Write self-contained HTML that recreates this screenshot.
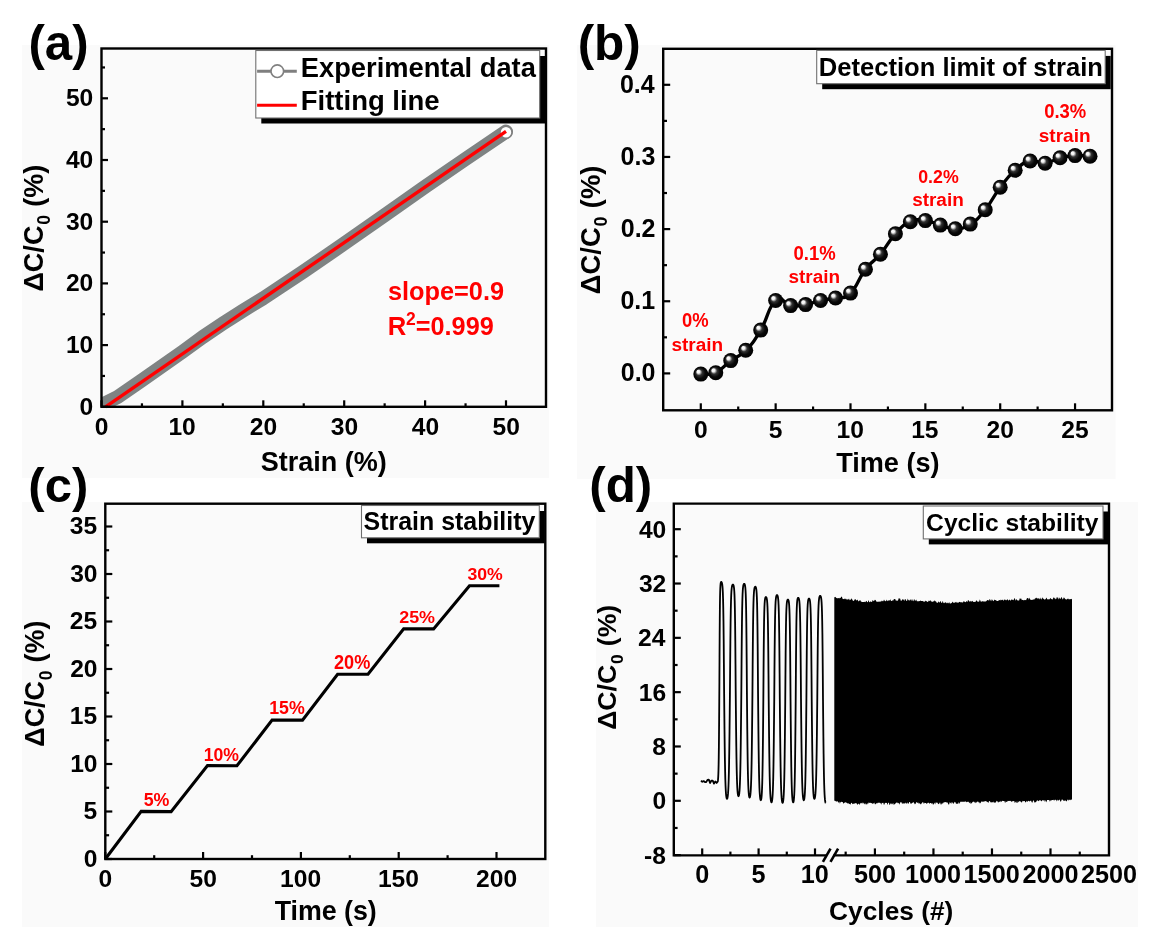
<!DOCTYPE html><html><head><meta charset="utf-8"><style>html,body{margin:0;padding:0;background:#fff;overflow:hidden}svg{display:block;will-change:transform}</style></head><body>
<svg width="1154" height="945" viewBox="0 0 1154 945">
<defs><radialGradient id="sph" cx="0.5" cy="0.5" r="0.5" fx="0.3" fy="0.3"><stop offset="0" stop-color="#fff"/><stop offset="0.2" stop-color="#f2f2f2"/><stop offset="0.42" stop-color="#333"/><stop offset="0.7" stop-color="#080808"/><stop offset="1" stop-color="#000"/></radialGradient><clipPath id="ca"><rect x="101.5" y="48.5" width="444.5" height="358.3"/></clipPath></defs>
<rect width="1154" height="945" fill="#fff"/>
<rect x="22" y="45" width="527" height="433" fill="#fafafa"/>
<rect x="577" y="45" width="538.5" height="434" fill="#fafafa"/>
<rect x="22" y="502" width="527" height="425" fill="#fafafa"/>
<rect x="596" y="502" width="542" height="425" fill="#fafafa"/>
<g font-family="Liberation Sans" font-weight="bold">
<path d="M101.5 404.95 L117.68 396.93 L141.95 380.27 L182.4 351.89 L202.62 337.08 L222.85 323.5 L243.07 310.55 L263.3 298.21 L303.75 271.37 L344.2 243.6 L384.65 215.22 L425.1 186.84 L465.55 159.07 L506 131.62" fill="none" stroke="#7f8383" stroke-width="14" stroke-linejoin="round" stroke-linecap="round" clip-path="url(#ca)"/>
<circle cx="506" cy="132.24" r="6" fill="#fff" stroke="#808080" stroke-width="1.6"/>
<line x1="105.55" y1="406.8" x2="506" y2="131.31" stroke="#ff0000" stroke-width="3.4"/>
<rect x="101.5" y="48.5" width="444.5" height="358.3" fill="none" stroke="#000" stroke-width="2.4"/>
<line x1="101.5" y1="406.8" x2="108" y2="406.8" stroke="#000" stroke-width="2.2" />
<line x1="101.5" y1="345.1" x2="108" y2="345.1" stroke="#000" stroke-width="2.2" />
<line x1="101.5" y1="283.4" x2="108" y2="283.4" stroke="#000" stroke-width="2.2" />
<line x1="101.5" y1="221.7" x2="108" y2="221.7" stroke="#000" stroke-width="2.2" />
<line x1="101.5" y1="160" x2="108" y2="160" stroke="#000" stroke-width="2.2" />
<line x1="101.5" y1="98.3" x2="108" y2="98.3" stroke="#000" stroke-width="2.2" />
<line x1="101.5" y1="375.95" x2="105" y2="375.95" stroke="#000" stroke-width="2.2" />
<line x1="101.5" y1="314.25" x2="105" y2="314.25" stroke="#000" stroke-width="2.2" />
<line x1="101.5" y1="252.55" x2="105" y2="252.55" stroke="#000" stroke-width="2.2" />
<line x1="101.5" y1="190.85" x2="105" y2="190.85" stroke="#000" stroke-width="2.2" />
<line x1="101.5" y1="129.15" x2="105" y2="129.15" stroke="#000" stroke-width="2.2" />
<line x1="101.5" y1="67.45" x2="105" y2="67.45" stroke="#000" stroke-width="2.2" />
<line x1="101.5" y1="406.8" x2="101.5" y2="400.3" stroke="#000" stroke-width="2.2" />
<line x1="182.4" y1="406.8" x2="182.4" y2="400.3" stroke="#000" stroke-width="2.2" />
<line x1="263.3" y1="406.8" x2="263.3" y2="400.3" stroke="#000" stroke-width="2.2" />
<line x1="344.2" y1="406.8" x2="344.2" y2="400.3" stroke="#000" stroke-width="2.2" />
<line x1="425.1" y1="406.8" x2="425.1" y2="400.3" stroke="#000" stroke-width="2.2" />
<line x1="506" y1="406.8" x2="506" y2="400.3" stroke="#000" stroke-width="2.2" />
<line x1="141.95" y1="406.8" x2="141.95" y2="403.3" stroke="#000" stroke-width="2.2" />
<line x1="222.85" y1="406.8" x2="222.85" y2="403.3" stroke="#000" stroke-width="2.2" />
<line x1="303.75" y1="406.8" x2="303.75" y2="403.3" stroke="#000" stroke-width="2.2" />
<line x1="384.65" y1="406.8" x2="384.65" y2="403.3" stroke="#000" stroke-width="2.2" />
<line x1="465.55" y1="406.8" x2="465.55" y2="403.3" stroke="#000" stroke-width="2.2" />
<text x="79.53" y="414.61" font-size="24.6" fill="#000">0</text>
<text x="65.88" y="352.91" font-size="24.6" fill="#000">10</text>
<text x="65.88" y="291.21" font-size="24.6" fill="#000">20</text>
<text x="65.88" y="229.51" font-size="24.6" fill="#000">30</text>
<text x="65.88" y="167.81" font-size="24.6" fill="#000">40</text>
<text x="65.88" y="106.11" font-size="24.6" fill="#000">50</text>
<text x="94.67" y="434.82" font-size="24.6" fill="#000">0</text>
<text x="168.44" y="434.82" font-size="24.6" fill="#000">10</text>
<text x="249.71" y="434.82" font-size="24.6" fill="#000">20</text>
<text x="330.73" y="434.82" font-size="24.6" fill="#000">30</text>
<text x="411.75" y="434.82" font-size="24.6" fill="#000">40</text>
<text x="492.47" y="434.82" font-size="24.6" fill="#000">50</text>
<text x="260.69" y="470.8" font-size="27.04" fill="#000">Strain (%)</text>
<g transform="translate(42.96 290.5) rotate(-90)">
<text x="-1.08" y="0" font-size="27.04">ΔC/C</text>
<text x="65.72" y="7.3" font-size="17.58">0</text>
<text x="83.7" y="0" font-size="27.04">(%)</text>
</g>
<rect x="261.3" y="56" width="283.9" height="67.5" fill="#000"/>
<rect x="255.8" y="50.5" width="283.9" height="67.5" fill="#fff" stroke="#707070" stroke-width="1.1"/>
<line x1="257.1" y1="71.2" x2="296.8" y2="71.2" stroke="#7f7f7f" stroke-width="3.0" />
<circle cx="277.3" cy="71.2" r="6.3" fill="#fff" stroke="#808080" stroke-width="1.6"/>
<line x1="257.1" y1="105.2" x2="296.8" y2="105.2" stroke="#ff0000" stroke-width="3.1" />
<text x="300.83" y="77.3" font-size="27.29" fill="#000">Experimental data</text>
<text x="300.81" y="110.4" font-size="27.47" fill="#000">Fitting line</text>
<text x="387.91" y="299.9" font-size="25.34" fill="#ff0000">slope=0.9</text>
<text transform="translate(387.83 335.2) scale(0.9786 1)" font-size="26.23" fill="#ff0000">R</text>
<text transform="translate(406.09 324.9) scale(0.9570 1)" font-size="18.29" fill="#ff0000">2</text>
<text x="415.79" y="335.2" font-size="25.25" fill="#ff0000">=0.999</text>
<text x="28.44" y="59.7" font-size="49.24" fill="#000">(a)</text>
<rect x="663.2" y="48.8" width="448.8" height="361.5" fill="none" stroke="#000" stroke-width="2.4"/>
<line x1="663.2" y1="373.4" x2="670.2" y2="373.4" stroke="#000" stroke-width="2.2" />
<line x1="663.2" y1="301.25" x2="670.2" y2="301.25" stroke="#000" stroke-width="2.2" />
<line x1="663.2" y1="229.1" x2="670.2" y2="229.1" stroke="#000" stroke-width="2.2" />
<line x1="663.2" y1="156.95" x2="670.2" y2="156.95" stroke="#000" stroke-width="2.2" />
<line x1="663.2" y1="84.8" x2="670.2" y2="84.8" stroke="#000" stroke-width="2.2" />
<line x1="663.2" y1="337.32" x2="667" y2="337.32" stroke="#000" stroke-width="2.2" />
<line x1="663.2" y1="265.17" x2="667" y2="265.17" stroke="#000" stroke-width="2.2" />
<line x1="663.2" y1="193.02" x2="667" y2="193.02" stroke="#000" stroke-width="2.2" />
<line x1="663.2" y1="120.88" x2="667" y2="120.88" stroke="#000" stroke-width="2.2" />
<line x1="700.8" y1="410.3" x2="700.8" y2="403.3" stroke="#000" stroke-width="2.2" />
<line x1="775.65" y1="410.3" x2="775.65" y2="403.3" stroke="#000" stroke-width="2.2" />
<line x1="850.5" y1="410.3" x2="850.5" y2="403.3" stroke="#000" stroke-width="2.2" />
<line x1="925.35" y1="410.3" x2="925.35" y2="403.3" stroke="#000" stroke-width="2.2" />
<line x1="1000.2" y1="410.3" x2="1000.2" y2="403.3" stroke="#000" stroke-width="2.2" />
<line x1="1075.05" y1="410.3" x2="1075.05" y2="403.3" stroke="#000" stroke-width="2.2" />
<line x1="738.22" y1="410.3" x2="738.22" y2="406.5" stroke="#000" stroke-width="2.2" />
<line x1="813.07" y1="410.3" x2="813.07" y2="406.5" stroke="#000" stroke-width="2.2" />
<line x1="887.92" y1="410.3" x2="887.92" y2="406.5" stroke="#000" stroke-width="2.2" />
<line x1="962.77" y1="410.3" x2="962.77" y2="406.5" stroke="#000" stroke-width="2.2" />
<line x1="1037.62" y1="410.3" x2="1037.62" y2="406.5" stroke="#000" stroke-width="2.2" />
<text x="620.75" y="381.25" font-size="25" fill="#000">0.0</text>
<text x="620.38" y="309.1" font-size="25" fill="#000">0.1</text>
<text x="620.75" y="236.95" font-size="25" fill="#000">0.2</text>
<text x="620.62" y="164.8" font-size="25" fill="#000">0.3</text>
<text x="619.88" y="92.65" font-size="25" fill="#000">0.4</text>
<text x="693.97" y="438.22" font-size="24.6" fill="#000">0</text>
<text x="768.76" y="438.22" font-size="24.6" fill="#000">5</text>
<text x="836.54" y="438.22" font-size="24.6" fill="#000">10</text>
<text x="911.2" y="438.22" font-size="24.6" fill="#000">15</text>
<text x="986.61" y="438.22" font-size="24.6" fill="#000">20</text>
<text x="1061.27" y="438.22" font-size="24.6" fill="#000">25</text>
<text transform="translate(836.13 471.97) scale(0.9598 1)" font-size="28.24" fill="#000">Time (s)</text>
<g transform="translate(599.73 293.1) rotate(-90)">
<text x="-1.1" y="0" font-size="27.44">ΔC/C</text>
<text x="66.67" y="7.41" font-size="17.83">0</text>
<text x="84.91" y="0" font-size="27.44">(%)</text>
</g>
<text x="577.63" y="59.9" font-size="49.49" fill="#000">(b)</text>
<rect x="822.2" y="55.9" width="288.5" height="33.3" fill="#000"/>
<rect x="816.7" y="50.4" width="288.5" height="33.3" fill="#fff" stroke="#707070" stroke-width="1.1"/>
<text x="818.74" y="76.3" font-size="25.58" fill="#000">Detection limit of strain</text>
<path d="M700.8 374.1 C704.54 373.75 708.28 376.07 715.77 372.7 C723.25 369.32 723.25 366.2 730.74 360.6 C738.23 355 738.22 357.93 745.71 350.3 C753.19 342.68 753.19 342.55 760.68 330.1 C768.16 317.65 768.16 306.62 775.65 300.5 C783.13 294.38 783.13 304.58 790.62 305.6 C798.11 306.62 798.1 305.88 805.59 304.6 C813.07 303.33 813.07 302.15 820.56 300.5 C828.04 298.85 828.04 299.85 835.53 298 C843.01 296.15 843.01 300.28 850.5 293.1 C857.99 285.93 857.99 279.03 865.47 269.3 C872.96 259.57 872.95 263.07 880.44 254.2 C887.92 245.32 887.92 241.93 895.41 233.8 C902.89 225.68 902.89 225 910.38 221.7 C917.87 218.4 917.86 219.75 925.35 220.6 C932.83 221.45 932.83 223.05 940.32 225.1 C947.8 227.15 947.8 229.05 955.29 228.8 C962.77 228.55 962.77 228.85 970.26 224.1 C977.75 219.35 977.75 219.03 985.23 209.8 C992.72 200.58 992.72 197.07 1000.2 187.2 C1007.69 177.32 1007.68 176.85 1015.17 170.3 C1022.65 163.75 1022.65 162.78 1030.14 161 C1037.62 159.22 1037.62 164 1045.11 163.2 C1052.59 162.4 1052.59 159.7 1060.08 157.8 C1067.57 155.9 1067.57 156 1075.05 155.6 C1082.53 155.2 1086.28 156.05 1090.02 156.2" fill="none" stroke="#000" stroke-width="3.3"/>
<circle cx="700.8" cy="374.1" r="7.5" fill="url(#sph)"/>
<circle cx="715.77" cy="372.7" r="7.5" fill="url(#sph)"/>
<circle cx="730.74" cy="360.6" r="7.5" fill="url(#sph)"/>
<circle cx="745.71" cy="350.3" r="7.5" fill="url(#sph)"/>
<circle cx="760.68" cy="330.1" r="7.5" fill="url(#sph)"/>
<circle cx="775.65" cy="300.5" r="7.5" fill="url(#sph)"/>
<circle cx="790.62" cy="305.6" r="7.5" fill="url(#sph)"/>
<circle cx="805.59" cy="304.6" r="7.5" fill="url(#sph)"/>
<circle cx="820.56" cy="300.5" r="7.5" fill="url(#sph)"/>
<circle cx="835.53" cy="298" r="7.5" fill="url(#sph)"/>
<circle cx="850.5" cy="293.1" r="7.5" fill="url(#sph)"/>
<circle cx="865.47" cy="269.3" r="7.5" fill="url(#sph)"/>
<circle cx="880.44" cy="254.2" r="7.5" fill="url(#sph)"/>
<circle cx="895.41" cy="233.8" r="7.5" fill="url(#sph)"/>
<circle cx="910.38" cy="221.7" r="7.5" fill="url(#sph)"/>
<circle cx="925.35" cy="220.6" r="7.5" fill="url(#sph)"/>
<circle cx="940.32" cy="225.1" r="7.5" fill="url(#sph)"/>
<circle cx="955.29" cy="228.8" r="7.5" fill="url(#sph)"/>
<circle cx="970.26" cy="224.1" r="7.5" fill="url(#sph)"/>
<circle cx="985.23" cy="209.8" r="7.5" fill="url(#sph)"/>
<circle cx="1000.2" cy="187.2" r="7.5" fill="url(#sph)"/>
<circle cx="1015.17" cy="170.3" r="7.5" fill="url(#sph)"/>
<circle cx="1030.14" cy="161" r="7.5" fill="url(#sph)"/>
<circle cx="1045.11" cy="163.2" r="7.5" fill="url(#sph)"/>
<circle cx="1060.08" cy="157.8" r="7.5" fill="url(#sph)"/>
<circle cx="1075.05" cy="155.6" r="7.5" fill="url(#sph)"/>
<circle cx="1090.02" cy="156.2" r="7.5" fill="url(#sph)"/>
<text transform="translate(681.96 327.1) scale(0.9402 1)" font-size="19.58" fill="#ff0000">0%</text>
<text transform="translate(671.43 350.71) scale(1.0274 1)" font-size="18.5" fill="#ff0000">strain</text>
<text transform="translate(793.56 260.11) scale(0.9523 1)" font-size="19.44" fill="#ff0000">0.1%</text>
<text transform="translate(788.44 283.31) scale(1.0253 1)" font-size="18.5" fill="#ff0000">strain</text>
<text transform="translate(918.19 183.41) scale(0.9286 1)" font-size="19.15" fill="#ff0000">0.2%</text>
<text transform="translate(912.14 206.01) scale(1.0253 1)" font-size="18.5" fill="#ff0000">strain</text>
<text transform="translate(1044.16 118) scale(0.9432 1)" font-size="19.58" fill="#ff0000">0.3%</text>
<text transform="translate(1038.73 141.51) scale(1.0219 1)" font-size="18.64" fill="#ff0000">strain</text>
<path d="M105.3 859 L141.2 811.4 L171.1 811.6 L207.5 765.6 L236.9 765.8 L272.1 720.1 L302.5 720.1 L337.6 674.2 L368 674.2 L403.7 628.9 L433.6 628.9 L469.5 585.7 L499.4 585.7" fill="none" stroke="#000" stroke-width="3.1" stroke-linejoin="miter"/>
<rect x="105.3" y="503.7" width="440" height="355.3" fill="none" stroke="#000" stroke-width="2.4"/>
<line x1="105.3" y1="859" x2="112.3" y2="859" stroke="#000" stroke-width="2.2" />
<line x1="105.3" y1="811.5" x2="112.3" y2="811.5" stroke="#000" stroke-width="2.2" />
<line x1="105.3" y1="764" x2="112.3" y2="764" stroke="#000" stroke-width="2.2" />
<line x1="105.3" y1="716.5" x2="112.3" y2="716.5" stroke="#000" stroke-width="2.2" />
<line x1="105.3" y1="669" x2="112.3" y2="669" stroke="#000" stroke-width="2.2" />
<line x1="105.3" y1="621.5" x2="112.3" y2="621.5" stroke="#000" stroke-width="2.2" />
<line x1="105.3" y1="574" x2="112.3" y2="574" stroke="#000" stroke-width="2.2" />
<line x1="105.3" y1="526.5" x2="112.3" y2="526.5" stroke="#000" stroke-width="2.2" />
<line x1="105.3" y1="835.25" x2="109.1" y2="835.25" stroke="#000" stroke-width="2.2" />
<line x1="105.3" y1="787.75" x2="109.1" y2="787.75" stroke="#000" stroke-width="2.2" />
<line x1="105.3" y1="740.25" x2="109.1" y2="740.25" stroke="#000" stroke-width="2.2" />
<line x1="105.3" y1="692.75" x2="109.1" y2="692.75" stroke="#000" stroke-width="2.2" />
<line x1="105.3" y1="645.25" x2="109.1" y2="645.25" stroke="#000" stroke-width="2.2" />
<line x1="105.3" y1="597.75" x2="109.1" y2="597.75" stroke="#000" stroke-width="2.2" />
<line x1="105.3" y1="550.25" x2="109.1" y2="550.25" stroke="#000" stroke-width="2.2" />
<line x1="105.3" y1="859" x2="105.3" y2="852" stroke="#000" stroke-width="2.2" />
<line x1="203.1" y1="859" x2="203.1" y2="852" stroke="#000" stroke-width="2.2" />
<line x1="300.9" y1="859" x2="300.9" y2="852" stroke="#000" stroke-width="2.2" />
<line x1="398.7" y1="859" x2="398.7" y2="852" stroke="#000" stroke-width="2.2" />
<line x1="496.5" y1="859" x2="496.5" y2="852" stroke="#000" stroke-width="2.2" />
<line x1="154.2" y1="859" x2="154.2" y2="855.2" stroke="#000" stroke-width="2.2" />
<line x1="252" y1="859" x2="252" y2="855.2" stroke="#000" stroke-width="2.2" />
<line x1="349.8" y1="859" x2="349.8" y2="855.2" stroke="#000" stroke-width="2.2" />
<line x1="447.6" y1="859" x2="447.6" y2="855.2" stroke="#000" stroke-width="2.2" />
<text x="83.83" y="866.61" font-size="24.6" fill="#000">0</text>
<text x="83.46" y="819.11" font-size="24.6" fill="#000">5</text>
<text x="70.18" y="771.61" font-size="24.6" fill="#000">10</text>
<text x="69.81" y="724.11" font-size="24.6" fill="#000">15</text>
<text x="70.18" y="676.61" font-size="24.6" fill="#000">20</text>
<text x="69.81" y="629.11" font-size="24.6" fill="#000">25</text>
<text x="70.18" y="581.61" font-size="24.6" fill="#000">30</text>
<text x="69.81" y="534.11" font-size="24.6" fill="#000">35</text>
<text x="98.47" y="887.22" font-size="24.6" fill="#000">0</text>
<text x="189.57" y="887.22" font-size="24.6" fill="#000">50</text>
<text x="280.11" y="887.22" font-size="24.6" fill="#000">100</text>
<text x="377.91" y="887.22" font-size="24.6" fill="#000">150</text>
<text x="476.08" y="887.22" font-size="24.6" fill="#000">200</text>
<text transform="translate(274.63 920.43) scale(0.9744 1)" font-size="27.49" fill="#000">Time (s)</text>
<g transform="translate(44.44 745.6) rotate(-90)">
<text x="-1.07" y="0" font-size="26.87">ΔC/C</text>
<text x="65.3" y="7.26" font-size="17.47">0</text>
<text x="83.16" y="0" font-size="26.87">(%)</text>
</g>
<text x="28.35" y="502.3" font-size="48.98" fill="#000">(c)</text>
<rect x="367" y="511" width="177.8" height="32.3" fill="#000"/>
<rect x="361.5" y="505.5" width="177.8" height="32.3" fill="#fff" stroke="#707070" stroke-width="1.1"/>
<text x="363.55" y="529.9" font-size="24.95" fill="#000">Strain stability</text>
<text transform="translate(143.66 805.72) scale(1.0063 1)" font-size="17.73" fill="#ff0000">5%</text>
<text transform="translate(203.75 760.62) scale(0.9636 1)" font-size="18.31" fill="#ff0000">10%</text>
<text transform="translate(269.14 714.02) scale(0.9728 1)" font-size="18.3" fill="#ff0000">15%</text>
<text transform="translate(333.96 668.9) scale(0.9268 1)" font-size="19.58" fill="#ff0000">20%</text>
<text transform="translate(399.17 622.93) scale(1.0526 1)" font-size="17.04" fill="#ff0000">25%</text>
<text transform="translate(467.46 579.53) scale(1.0468 1)" font-size="16.9" fill="#ff0000">30%</text>
<path d="M701 780.55 L702.3 781.78 L703.6 781.08 L704.9 782.02 L706.2 782.1 L707.5 779.86 L708.8 779.65 L710.1 782.95 L711.4 780.64 L712.7 780.54 L714 783.58 L715.3 781.48 L716.6 782.95 L717.6 781.6 L717.73 781.43 L717.86 780.92 L717.99 780.01 L718.11 778.6 L718.24 776.56 L718.37 773.68 L718.5 769.66 L718.63 764.15 L718.76 756.69 L718.89 746.83 L719.01 734.21 L719.14 718.77 L719.27 700.95 L719.4 681.75 L719.53 657.04 L719.66 635.31 L719.79 618.2 L719.91 605.84 L720.04 597.38 L720.17 591.79 L720.3 588.15 L720.43 585.78 L720.56 584.23 L720.69 583.23 L720.81 582.58 L720.94 582.19 L721.07 581.97 L721.2 581.9 L721.2 581.9 L721.41 581.97 L721.61 582.21 L721.82 582.64 L722.03 583.34 L722.24 584.43 L722.44 586.11 L722.65 588.68 L722.86 592.64 L723.06 598.72 L723.27 607.9 L723.48 621.33 L723.69 639.91 L723.89 663.51 L724.1 690.35 L724.31 711.21 L724.51 730.56 L724.72 747.32 L724.93 761.03 L725.14 771.74 L725.34 779.84 L725.55 785.84 L725.76 790.2 L725.96 793.33 L726.17 795.55 L726.38 797.07 L726.59 798.06 L726.79 798.62 L727 798.8 L727 798.8 L727.21 798.62 L727.42 798.07 L727.63 797.09 L727.84 795.59 L728.05 793.4 L728.26 790.3 L728.48 786 L728.69 780.08 L728.9 772.08 L729.11 761.5 L729.32 747.96 L729.53 731.41 L729.74 712.3 L729.95 691.7 L730.16 665.2 L730.37 641.88 L730.58 623.54 L730.79 610.27 L731 601.21 L731.21 595.21 L731.42 591.3 L731.64 588.76 L731.85 587.1 L732.06 586.03 L732.27 585.33 L732.48 584.91 L732.69 584.67 L732.9 584.6 L732.9 584.6 L733.1 584.67 L733.3 584.9 L733.5 585.33 L733.7 586.01 L733.9 587.07 L734.1 588.71 L734.3 591.22 L734.5 595.08 L734.7 601.01 L734.9 609.96 L735.1 623.07 L735.3 641.19 L735.5 664.22 L735.7 690.4 L735.9 710.75 L736.1 729.63 L736.3 745.98 L736.5 759.35 L736.7 769.8 L736.9 777.71 L737.1 783.55 L737.3 787.81 L737.5 790.86 L737.7 793.02 L737.9 794.51 L738.1 795.48 L738.3 796.02 L738.5 796.2 L738.5 796.2 L738.7 796.02 L738.91 795.48 L739.11 794.51 L739.31 793.01 L739.52 790.84 L739.72 787.77 L739.92 783.5 L740.13 777.64 L740.33 769.7 L740.54 759.21 L740.74 745.79 L740.94 729.37 L741.15 710.42 L741.35 690 L741.55 663.72 L741.76 640.6 L741.96 622.41 L742.16 609.26 L742.37 600.27 L742.57 594.32 L742.78 590.44 L742.98 587.92 L743.18 586.28 L743.39 585.21 L743.59 584.53 L743.79 584.1 L744 583.87 L744.2 583.8 L744.2 583.8 L744.39 583.87 L744.59 584.11 L744.78 584.53 L744.97 585.22 L745.16 586.3 L745.36 587.95 L745.55 590.48 L745.74 594.39 L745.94 600.37 L746.13 609.41 L746.32 622.65 L746.51 640.95 L746.71 664.21 L746.9 690.65 L747.09 711.2 L747.29 730.27 L747.48 746.78 L747.67 760.29 L747.86 770.84 L748.06 778.82 L748.25 784.73 L748.44 789.02 L748.64 792.11 L748.83 794.29 L749.02 795.8 L749.21 796.77 L749.41 797.32 L749.6 797.5 L749.6 797.5 L749.8 797.33 L750.01 796.78 L750.21 795.82 L750.41 794.34 L750.62 792.18 L750.82 789.14 L751.02 784.9 L751.23 779.08 L751.43 771.2 L751.64 760.79 L751.84 747.47 L752.04 731.18 L752.25 712.37 L752.45 692.1 L752.65 666.02 L752.86 643.07 L753.06 625.02 L753.26 611.97 L753.47 603.05 L753.67 597.14 L753.88 593.29 L754.08 590.79 L754.28 589.16 L754.49 588.1 L754.69 587.42 L754.89 587 L755.1 586.77 L755.3 586.7 L755.3 586.7 L755.5 586.77 L755.69 587.01 L755.89 587.43 L756.09 588.12 L756.28 589.2 L756.48 590.84 L756.67 593.38 L756.87 597.28 L757.07 603.26 L757.26 612.29 L757.46 625.51 L757.66 643.8 L757.85 667.03 L758.05 693.45 L758.25 713.98 L758.44 733.03 L758.64 749.53 L758.84 763.02 L759.03 773.57 L759.23 781.54 L759.42 787.44 L759.62 791.73 L759.82 794.81 L760.01 797 L760.21 798.5 L760.41 799.47 L760.6 800.02 L760.8 800.2 L760.8 800.2 L760.98 800.03 L761.16 799.51 L761.35 798.58 L761.53 797.15 L761.71 795.07 L761.89 792.14 L762.07 788.05 L762.26 782.44 L762.44 774.85 L762.62 764.82 L762.8 751.97 L762.99 736.27 L763.17 718.14 L763.35 698.6 L763.53 673.46 L763.71 651.34 L763.9 633.94 L764.08 621.36 L764.26 612.76 L764.44 607.07 L764.62 603.36 L764.81 600.94 L764.99 599.37 L765.17 598.35 L765.35 597.7 L765.54 597.29 L765.72 597.07 L765.9 597 L765.9 597 L766.1 597.07 L766.3 597.29 L766.5 597.7 L766.7 598.37 L766.9 599.4 L767.1 600.98 L767.3 603.42 L767.5 607.17 L767.7 612.92 L767.9 621.61 L768.1 634.32 L768.3 651.9 L768.5 674.25 L768.7 699.65 L768.9 719.39 L769.1 737.71 L769.3 753.58 L769.5 766.55 L769.7 776.69 L769.9 784.36 L770.1 790.03 L770.3 794.16 L770.5 797.12 L770.7 799.22 L770.9 800.66 L771.1 801.6 L771.3 802.13 L771.5 802.3 L771.5 802.3 L771.7 802.13 L771.89 801.6 L772.09 800.65 L772.29 799.19 L772.48 797.07 L772.68 794.08 L772.88 789.92 L773.07 784.19 L773.27 776.45 L773.46 766.22 L773.66 753.13 L773.86 737.11 L774.05 718.62 L774.25 698.7 L774.45 673.06 L774.64 650.51 L774.84 632.77 L775.04 619.94 L775.23 611.17 L775.43 605.36 L775.62 601.58 L775.82 599.12 L776.02 597.52 L776.21 596.48 L776.41 595.81 L776.61 595.4 L776.8 595.17 L777 595.1 L777 595.1 L777.2 595.17 L777.4 595.4 L777.6 595.81 L777.8 596.48 L778 597.53 L778.2 599.13 L778.4 601.6 L778.6 605.39 L778.8 611.21 L779 620 L779.2 632.86 L779.4 650.65 L779.6 673.25 L779.8 698.95 L780 718.92 L780.2 737.45 L780.4 753.51 L780.6 766.63 L780.8 776.89 L781 784.65 L781.2 790.39 L781.4 794.56 L781.6 797.56 L781.8 799.68 L782 801.14 L782.2 802.09 L782.4 802.63 L782.6 802.8 L782.6 802.8 L782.79 802.63 L782.98 802.11 L783.17 801.18 L783.36 799.75 L783.55 797.67 L783.74 794.74 L783.92 790.65 L784.11 785.04 L784.3 777.45 L784.49 767.42 L784.68 754.57 L784.87 738.87 L785.06 720.74 L785.25 701.2 L785.44 676.06 L785.63 653.94 L785.82 636.54 L786.01 623.96 L786.2 615.36 L786.39 609.67 L786.58 605.96 L786.76 603.54 L786.95 601.97 L787.14 600.95 L787.33 600.3 L787.52 599.89 L787.71 599.67 L787.9 599.6 L787.9 599.6 L788.09 599.67 L788.28 599.89 L788.47 600.29 L788.66 600.95 L788.85 601.97 L789.04 603.53 L789.23 605.94 L789.41 609.64 L789.6 615.32 L789.79 623.9 L789.98 636.45 L790.17 653.81 L790.36 675.87 L790.55 700.95 L790.74 720.44 L790.93 738.53 L791.12 754.19 L791.31 767 L791.5 777.01 L791.69 784.59 L791.88 790.18 L792.06 794.26 L792.25 797.19 L792.44 799.26 L792.63 800.68 L792.82 801.61 L793.01 802.13 L793.2 802.3 L793.2 802.3 L793.38 802.13 L793.56 801.6 L793.74 800.67 L793.91 799.23 L794.09 797.14 L794.27 794.19 L794.45 790.08 L794.63 784.43 L794.81 776.79 L794.99 766.69 L795.16 753.77 L795.34 737.96 L795.52 719.71 L795.7 700.05 L795.88 674.75 L796.06 652.49 L796.24 634.98 L796.41 622.31 L796.59 613.66 L796.77 607.93 L796.95 604.2 L797.13 601.77 L797.31 600.19 L797.49 599.16 L797.66 598.5 L797.84 598.09 L798.02 597.87 L798.2 597.8 L798.2 597.8 L798.4 597.87 L798.6 598.09 L798.8 598.49 L799 599.15 L799.2 600.17 L799.4 601.73 L799.6 604.13 L799.8 607.83 L800 613.49 L800.2 622.06 L800.4 634.59 L800.6 651.93 L800.8 673.96 L801 699 L801.2 718.46 L801.4 736.52 L801.6 752.16 L801.8 764.96 L802 774.95 L802.2 782.51 L802.4 788.1 L802.6 792.17 L802.8 795.09 L803 797.16 L803.2 798.59 L803.4 799.51 L803.6 800.03 L803.8 800.2 L803.8 800.2 L803.99 800.03 L804.17 799.51 L804.36 798.59 L804.54 797.18 L804.73 795.11 L804.91 792.2 L805.1 788.15 L805.29 782.58 L805.47 775.05 L805.66 765.09 L805.84 752.35 L806.03 736.77 L806.21 718.79 L806.4 699.4 L806.59 674.46 L806.77 652.51 L806.96 635.25 L807.14 622.76 L807.33 614.23 L807.51 608.59 L807.7 604.91 L807.89 602.51 L808.07 600.96 L808.26 599.94 L808.44 599.29 L808.63 598.89 L808.81 598.67 L809 598.6 L809 598.6 L809.19 598.67 L809.39 598.89 L809.58 599.29 L809.77 599.93 L809.96 600.94 L810.16 602.49 L810.35 604.86 L810.54 608.52 L810.74 614.12 L810.93 622.6 L811.12 634.99 L811.31 652.14 L811.51 673.93 L811.7 698.7 L811.89 717.95 L812.09 735.81 L812.28 751.29 L812.47 763.94 L812.66 773.83 L812.86 781.3 L813.05 786.83 L813.24 790.86 L813.44 793.75 L813.63 795.8 L813.82 797.2 L814.01 798.12 L814.21 798.63 L814.4 798.8 L814.4 798.8 L814.61 798.63 L814.81 798.11 L815.02 797.18 L815.23 795.76 L815.44 793.68 L815.64 790.75 L815.85 786.67 L816.06 781.07 L816.26 773.49 L816.47 763.47 L816.68 750.65 L816.89 734.96 L817.09 716.86 L817.3 697.35 L817.51 672.25 L817.71 650.16 L817.92 632.78 L818.13 620.22 L818.34 611.63 L818.54 605.95 L818.75 602.25 L818.96 599.84 L819.16 598.27 L819.37 597.25 L819.58 596.6 L819.79 596.19 L819.99 595.97 L820.2 595.9 L820.2 595.9 L820.4 595.97 L820.6 596.2 L820.8 596.61 L821 597.28 L821.2 598.32 L821.4 599.92 L821.6 602.38 L821.8 606.16 L822 611.96 L822.2 620.72 L822.4 633.55 L822.6 651.28 L822.8 673.83 L823 699.45 L823.2 719.36 L823.4 737.84 L823.6 753.85 L823.8 766.94 L824 777.17 L824.2 784.9 L824.4 790.62 L824.6 794.78 L824.8 797.78 L825 799.89 L825.2 801.35 L825.4 802.3 L825.6 802.83 L825.8 803" fill="none" stroke="#000" stroke-width="1.8" stroke-linejoin="round"/>
<path d="M834.3 597.43 L835 596.72 L835.7 597.19 L836.4 598.05 L837.1 598.17 L837.8 598.28 L838.5 597.94 L839.2 598.49 L839.9 597.63 L840.6 597.9 L841.3 596.41 L842 597.09 L842.7 599.07 L843.4 598.99 L844.1 599.28 L844.8 598.42 L845.5 598.82 L846.2 599.71 L846.9 598.63 L847.6 599.7 L848.3 599.54 L849 598.55 L849.7 600.16 L850.4 599.71 L851.1 599.16 L851.8 598.17 L852.5 600.31 L853.2 600.79 L853.9 600.93 L854.6 599.5 L855.3 599.11 L856 599.93 L856.7 600.4 L857.4 599.52 L858.1 600.86 L858.8 601.52 L859.5 600.52 L860.2 599.94 L860.9 601.39 L861.6 601.86 L862.3 601.88 L863 602.03 L863.7 602.08 L864.4 601.81 L865.1 602.27 L865.8 601.59 L866.5 600.63 L867.2 602.13 L867.9 601.96 L868.6 599.88 L869.3 602.14 L870 602.05 L870.7 601.25 L871.4 602.11 L872.1 601.72 L872.8 599.68 L873.5 601.31 L874.2 600.77 L874.9 599.82 L875.6 599.9 L876.3 601.45 L877 601.79 L877.7 601.77 L878.4 601.63 L879.1 601.4 L879.8 601.66 L880.5 601.6 L881.2 601.59 L881.9 600.57 L882.6 601.35 L883.3 601.13 L884 599.57 L884.7 600.84 L885.4 601.35 L886.1 601.02 L886.8 599.51 L887.5 601.25 L888.2 600.49 L888.9 600.41 L889.6 600.42 L890.3 599.17 L891 600.89 L891.7 600.96 L892.4 600.26 L893.1 600.68 L893.8 599.21 L894.5 599 L895.2 599.11 L895.9 600.68 L896.6 600.45 L897.3 600.74 L898 600.53 L898.7 598.34 L899.4 598.46 L900.1 598.4 L900.8 600.66 L901.5 600.71 L902.2 599.82 L902.9 599.02 L903.6 599.77 L904.3 600.88 L905 598.77 L905.7 599.48 L906.4 600.88 L907.1 600.7 L907.8 598.56 L908.5 600.62 L909.2 599.69 L909.9 601.04 L910.6 598.97 L911.3 601.07 L912 598.65 L912.7 600.85 L913.4 601.15 L914.1 598.76 L914.8 600.51 L915.5 600.77 L916.2 599.5 L916.9 601.14 L917.6 601.17 L918.3 601.17 L919 601.32 L919.7 601.07 L920.4 600.55 L921.1 601.02 L921.8 600.88 L922.5 600.88 L923.2 601.14 L923.9 601.7 L924.6 601.67 L925.3 600.44 L926 601.58 L926.7 601.11 L927.4 601.94 L928.1 601.86 L928.8 600.52 L929.5 601.31 L930.2 600.02 L930.9 601.26 L931.6 601.61 L932.3 601.81 L933 601.8 L933.7 601.18 L934.4 600.19 L935.1 601.74 L935.8 600.77 L936.5 602.62 L937.2 602.7 L937.9 602.76 L938.6 601.23 L939.3 602.83 L940 601.81 L940.7 600.98 L941.4 602.93 L942.1 602.7 L942.8 600.63 L943.5 603.16 L944.2 602.6 L944.9 603.25 L945.6 602.05 L946.3 602.66 L947 603.52 L947.7 602.56 L948.4 603.56 L949.1 601.89 L949.8 603.42 L950.5 603.39 L951.2 603.14 L951.9 602.81 L952.6 601.47 L953.3 603.1 L954 602.25 L954.7 603.02 L955.4 601.75 L956.1 602.91 L956.8 601.82 L957.5 602.79 L958.2 602.74 L958.9 602.16 L959.6 601.84 L960.3 602.4 L961 601.83 L961.7 602.48 L962.4 602.47 L963.1 602.19 L963.8 600.91 L964.5 601.72 L965.2 602.03 L965.9 602.14 L966.6 600.87 L967.3 602.14 L968 599.93 L968.7 600.42 L969.4 601.49 L970.1 601.69 L970.8 600.83 L971.5 601.72 L972.2 600.69 L972.9 601.54 L973.6 601.94 L974.3 601.91 L975 601.73 L975.7 601.85 L976.4 599.88 L977.1 601.62 L977.8 601.57 L978.5 601.71 L979.2 601.57 L979.9 599.27 L980.6 601.55 L981.3 601.43 L982 601.65 L982.7 601.04 L983.4 601.5 L984.1 601.58 L984.8 601.53 L985.5 601.53 L986.2 601.27 L986.9 600.59 L987.6 599.99 L988.3 600.1 L989 601.01 L989.7 598.86 L990.4 600 L991.1 601.33 L991.8 599.24 L992.5 599.89 L993.2 601.21 L993.9 600.58 L994.6 599.53 L995.3 600.31 L996 599.96 L996.7 601.02 L997.4 601.09 L998.1 601.09 L998.8 600.29 L999.5 600.06 L1000.2 600.44 L1000.9 599.39 L1001.6 600.37 L1002.3 599.88 L1003 599.58 L1003.7 600.96 L1004.4 599.57 L1005.1 599.51 L1005.8 600.28 L1006.5 600.3 L1007.2 599.35 L1007.9 599.79 L1008.6 600.79 L1009.3 599.39 L1010 599.97 L1010.7 600.78 L1011.4 599.6 L1012.1 599.57 L1012.8 600.04 L1013.5 600.15 L1014.2 598.62 L1014.9 598.19 L1015.6 600.66 L1016.3 598.9 L1017 600.1 L1017.7 600.49 L1018.4 600.47 L1019.1 600.5 L1019.8 598.17 L1020.5 598.75 L1021.2 598.42 L1021.9 600.3 L1022.6 599.8 L1023.3 600.38 L1024 599.83 L1024.7 600.27 L1025.4 600.04 L1026.1 600.27 L1026.8 598.41 L1027.5 597.98 L1028.2 598.07 L1028.9 599.79 L1029.6 597.53 L1030.3 599.76 L1031 599.87 L1031.7 600.01 L1032.4 599.8 L1033.1 599.82 L1033.8 599.27 L1034.5 599.56 L1035.2 597.86 L1035.9 598.83 L1036.6 597.54 L1037.3 598.46 L1038 598.39 L1038.7 598.28 L1039.4 599.51 L1040.1 597.47 L1040.8 599.11 L1041.5 599.45 L1042.2 597.19 L1042.9 598.54 L1043.6 598.85 L1044.3 599.57 L1045 599.52 L1045.7 598.98 L1046.4 597.48 L1047.1 599.08 L1047.8 599.5 L1048.5 599.29 L1049.2 599.43 L1049.9 598.73 L1050.6 598.1 L1051.3 599.11 L1052 599.17 L1052.7 599.52 L1053.4 597.09 L1054.1 598.86 L1054.8 597.57 L1055.5 599.31 L1056.2 599.07 L1056.9 597.11 L1057.6 597.49 L1058.3 599.46 L1059 597.37 L1059.7 598.55 L1060.4 599.04 L1061.1 597.65 L1061.8 596.96 L1062.5 599.38 L1063.2 598.7 L1063.9 597.13 L1064.6 598.36 L1065.3 598.93 L1066 599.5 L1066.7 599.38 L1067.4 598.46 L1068.1 599.53 L1068.8 598.54 L1069.5 599.58 L1070.2 598.92 L1070.9 599.27 L1071.6 598.75 L1072 599.46 L1072 800.05 L1071.6 799.49 L1070.9 799.61 L1070.2 800.34 L1069.5 799.46 L1068.8 800.7 L1068.1 799.58 L1067.4 799.64 L1066.7 801.58 L1066 800.96 L1065.3 800.14 L1064.6 800.86 L1063.9 800.67 L1063.2 800.51 L1062.5 799.38 L1061.8 799.51 L1061.1 801.28 L1060.4 801.64 L1059.7 799.43 L1059 800.04 L1058.3 800.79 L1057.6 799.51 L1056.9 801.41 L1056.2 800.08 L1055.5 799.75 L1054.8 799.74 L1054.1 800.68 L1053.4 799.72 L1052.7 799.9 L1052 800.03 L1051.3 800.47 L1050.6 800.23 L1049.9 801.86 L1049.2 800.01 L1048.5 799.89 L1047.8 799.92 L1047.1 799.97 L1046.4 802.53 L1045.7 800.1 L1045 802.14 L1044.3 800.1 L1043.6 800.46 L1042.9 800.32 L1042.2 800.29 L1041.5 801.56 L1040.8 800.48 L1040.1 800.24 L1039.4 800.23 L1038.7 801.32 L1038 800.79 L1037.3 800.29 L1036.6 801.09 L1035.9 802.5 L1035.2 802.07 L1034.5 802.75 L1033.8 800.49 L1033.1 800.6 L1032.4 802.72 L1031.7 802.28 L1031 800.49 L1030.3 800.99 L1029.6 801.43 L1028.9 800.95 L1028.2 800.79 L1027.5 801.92 L1026.8 800.66 L1026.1 802.11 L1025.4 802.5 L1024.7 800.99 L1024 800.95 L1023.3 801.36 L1022.6 800.76 L1021.9 802.87 L1021.2 802.08 L1020.5 801.49 L1019.8 800.89 L1019.1 801.58 L1018.4 801.77 L1017.7 803.22 L1017 801.08 L1016.3 803.33 L1015.6 801.44 L1014.9 803.17 L1014.2 800.99 L1013.5 800.92 L1012.8 801.44 L1012.1 801.09 L1011.4 802.12 L1010.7 801.06 L1010 800.87 L1009.3 801.1 L1008.6 801.03 L1007.9 800.87 L1007.2 801.84 L1006.5 802.07 L1005.8 801.23 L1005.1 803.32 L1004.4 800.95 L1003.7 801.02 L1003 801 L1002.3 800.84 L1001.6 801.57 L1000.9 802.28 L1000.2 800.82 L999.5 802.02 L998.8 801.84 L998.1 802.63 L997.4 801.15 L996.7 800.81 L996 802.05 L995.3 802.87 L994.6 802.59 L993.9 802.64 L993.2 801.56 L992.5 802.58 L991.8 801.91 L991.1 802.72 L990.4 802 L989.7 801 L989 801.23 L988.3 802.98 L987.6 802.12 L986.9 801.74 L986.2 801.17 L985.5 801.05 L984.8 801.48 L984.1 801.27 L983.4 801.76 L982.7 801.78 L982 801.52 L981.3 801.49 L980.6 803.6 L979.9 801.97 L979.2 803.62 L978.5 801.75 L977.8 801.8 L977.1 801.42 L976.4 802.45 L975.7 803.14 L975 801.39 L974.3 802.77 L973.6 801.4 L972.9 801.69 L972.2 802.45 L971.5 803.21 L970.8 803.94 L970.1 802.11 L969.4 803.27 L968.7 801.96 L968 801.52 L967.3 802.09 L966.6 802.31 L965.9 801.54 L965.2 801.55 L964.5 801.65 L963.8 801.8 L963.1 801.84 L962.4 801.72 L961.7 801.7 L961 801.79 L960.3 801.7 L959.6 803.91 L958.9 801.99 L958.2 803.64 L957.5 803.63 L956.8 803.41 L956.1 804.04 L955.4 802.24 L954.7 801.79 L954 803.08 L953.3 804.01 L952.6 802.01 L951.9 804.01 L951.2 801.92 L950.5 803.47 L949.8 802.09 L949.1 804.38 L948.4 804.47 L947.7 802.65 L947 802.27 L946.3 802.51 L945.6 802.02 L944.9 802.3 L944.2 802.35 L943.5 802.56 L942.8 803.89 L942.1 802.73 L941.4 804.49 L940.7 804.58 L940 802.22 L939.3 803.52 L938.6 804.29 L937.9 803.39 L937.2 802.39 L936.5 802.76 L935.8 802.32 L935.1 804.61 L934.4 802.49 L933.7 804.33 L933 804.65 L932.3 803.11 L931.6 803.63 L930.9 803.06 L930.2 802.89 L929.5 803.87 L928.8 803.02 L928.1 802.53 L927.4 803.13 L926.7 803.9 L926 802.98 L925.3 803.08 L924.6 802.84 L923.9 803.9 L923.2 802.31 L922.5 802.21 L921.8 802.93 L921.1 804.36 L920.4 804.29 L919.7 802.69 L919 804.28 L918.3 802.57 L917.6 802.99 L916.9 802.3 L916.2 802.18 L915.5 804.02 L914.8 804.3 L914.1 803.11 L913.4 802 L912.7 802.77 L912 803.09 L911.3 803.73 L910.6 803.63 L909.9 801.98 L909.2 801.98 L908.5 804.25 L907.8 802.35 L907.1 803.64 L906.4 803.62 L905.7 802.62 L905 803.65 L904.3 803.22 L903.6 803.77 L902.9 802.74 L902.2 804.27 L901.5 802.3 L900.8 802.35 L900.1 802.59 L899.4 804.81 L898.7 802.82 L898 803.58 L897.3 802.56 L896.6 802.39 L895.9 803.11 L895.2 803.86 L894.5 804.16 L893.8 805.02 L893.1 802.65 L892.4 804.13 L891.7 804.13 L891 802.95 L890.3 803.89 L889.6 805.15 L888.9 802.69 L888.2 802.77 L887.5 805.09 L886.8 802.84 L886.1 802.98 L885.4 802.82 L884.7 803.39 L884 805.33 L883.3 802.79 L882.6 803.05 L881.9 802.78 L881.2 804.7 L880.5 803.04 L879.8 802.75 L879.1 802.68 L878.4 802.73 L877.7 802.66 L877 803.68 L876.3 803.04 L875.6 804.27 L874.9 804.18 L874.2 802.59 L873.5 803.56 L872.8 803.8 L872.1 803.38 L871.4 802.99 L870.7 802.7 L870 803.12 L869.3 802.64 L868.6 802.54 L867.9 804.5 L867.2 802.91 L866.5 804.39 L865.8 804.46 L865.1 802.94 L864.4 804.38 L863.7 802.57 L863 803.97 L862.3 802.49 L861.6 803.03 L860.9 803.67 L860.2 802.74 L859.5 805.11 L858.8 803.85 L858.1 803.74 L857.4 804.94 L856.7 803.18 L856 803.59 L855.3 802.95 L854.6 803.57 L853.9 803.9 L853.2 803.38 L852.5 804.27 L851.8 802.84 L851.1 803.05 L850.4 804.84 L849.7 803.73 L849 804.17 L848.3 803.02 L847.6 803.57 L846.9 803.05 L846.2 802.57 L845.5 802.36 L844.8 802.6 L844.1 803.01 L843.4 803.76 L842.7 801.95 L842 802.02 L841.3 801.7 L840.6 801.99 L839.9 803.81 L839.2 801.5 L838.5 803.03 L837.8 801.17 L837.1 801.53 L836.4 801.6 L835.7 801.17 L835 800.72 L834.3 800.66Z" fill="#000"/>
<path d="M826 855.4 H673.8 V503.6 H1109 V855.4 H833.5" fill="none" stroke="#000" stroke-width="2.4"/>
<line x1="822.9" y1="861.9" x2="830.5" y2="848.6" stroke="#000" stroke-width="2.6" />
<line x1="830.5" y1="861.9" x2="838.1" y2="848.6" stroke="#000" stroke-width="2.6" />
<line x1="673.8" y1="855.12" x2="680.8" y2="855.12" stroke="#000" stroke-width="2.2" />
<line x1="673.8" y1="800.8" x2="680.8" y2="800.8" stroke="#000" stroke-width="2.2" />
<line x1="673.8" y1="746.48" x2="680.8" y2="746.48" stroke="#000" stroke-width="2.2" />
<line x1="673.8" y1="692.16" x2="680.8" y2="692.16" stroke="#000" stroke-width="2.2" />
<line x1="673.8" y1="637.84" x2="680.8" y2="637.84" stroke="#000" stroke-width="2.2" />
<line x1="673.8" y1="583.52" x2="680.8" y2="583.52" stroke="#000" stroke-width="2.2" />
<line x1="673.8" y1="529.2" x2="680.8" y2="529.2" stroke="#000" stroke-width="2.2" />
<line x1="673.8" y1="827.96" x2="677.6" y2="827.96" stroke="#000" stroke-width="2.2" />
<line x1="673.8" y1="773.64" x2="677.6" y2="773.64" stroke="#000" stroke-width="2.2" />
<line x1="673.8" y1="719.32" x2="677.6" y2="719.32" stroke="#000" stroke-width="2.2" />
<line x1="673.8" y1="665" x2="677.6" y2="665" stroke="#000" stroke-width="2.2" />
<line x1="673.8" y1="610.68" x2="677.6" y2="610.68" stroke="#000" stroke-width="2.2" />
<line x1="673.8" y1="556.36" x2="677.6" y2="556.36" stroke="#000" stroke-width="2.2" />
<line x1="702.2" y1="855.4" x2="702.2" y2="848.4" stroke="#000" stroke-width="2.2" />
<line x1="758.6" y1="855.4" x2="758.6" y2="848.4" stroke="#000" stroke-width="2.2" />
<line x1="815" y1="855.4" x2="815" y2="848.4" stroke="#000" stroke-width="2.2" />
<line x1="730.4" y1="855.4" x2="730.4" y2="851.6" stroke="#000" stroke-width="2.2" />
<line x1="786.8" y1="855.4" x2="786.8" y2="851.6" stroke="#000" stroke-width="2.2" />
<line x1="874.92" y1="855.4" x2="874.92" y2="848.4" stroke="#000" stroke-width="2.2" />
<line x1="933.45" y1="855.4" x2="933.45" y2="848.4" stroke="#000" stroke-width="2.2" />
<line x1="991.97" y1="855.4" x2="991.97" y2="848.4" stroke="#000" stroke-width="2.2" />
<line x1="1050.5" y1="855.4" x2="1050.5" y2="848.4" stroke="#000" stroke-width="2.2" />
<line x1="845.66" y1="855.4" x2="845.66" y2="851.6" stroke="#000" stroke-width="2.2" />
<line x1="904.19" y1="855.4" x2="904.19" y2="851.6" stroke="#000" stroke-width="2.2" />
<line x1="962.71" y1="855.4" x2="962.71" y2="851.6" stroke="#000" stroke-width="2.2" />
<line x1="1021.24" y1="855.4" x2="1021.24" y2="851.6" stroke="#000" stroke-width="2.2" />
<line x1="1079.76" y1="855.4" x2="1079.76" y2="851.6" stroke="#000" stroke-width="2.2" />
<text x="644.04" y="863.73" font-size="24.6" fill="#000">-8</text>
<text x="652.53" y="809.41" font-size="24.6" fill="#000">0</text>
<text x="652.28" y="755.09" font-size="24.6" fill="#000">8</text>
<text x="638.75" y="700.77" font-size="24.6" fill="#000">16</text>
<text x="638.02" y="646.45" font-size="24.6" fill="#000">24</text>
<text x="638.88" y="592.13" font-size="24.6" fill="#000">32</text>
<text x="638.88" y="537.81" font-size="24.6" fill="#000">40</text>
<text x="695.21" y="882.64" font-size="25.2" fill="#000">0</text>
<text x="751.54" y="882.64" font-size="25.2" fill="#000">5</text>
<text x="800.7" y="882.64" font-size="25.2" fill="#000">10</text>
<text x="854.07" y="882.64" font-size="25.2" fill="#000">500</text>
<text x="905.1" y="882.64" font-size="25.2" fill="#000">1000</text>
<text x="963.62" y="882.64" font-size="25.2" fill="#000">1500</text>
<text x="1022.53" y="882.64" font-size="25.2" fill="#000">2000</text>
<text x="1081.05" y="882.64" font-size="25.2" fill="#000">2500</text>
<text transform="translate(829.05 920.32) scale(1.0086 1)" font-size="26.1" fill="#000">Cycles (#)</text>
<g transform="translate(616.01 728.8) rotate(-90)">
<text x="-1.07" y="0" font-size="26.68">ΔC/C</text>
<text x="64.82" y="7.2" font-size="17.34">0</text>
<text x="82.55" y="0" font-size="26.68">(%)</text>
</g>
<text x="589.33" y="502.3" font-size="49.32" fill="#000">(d)</text>
<rect x="928.8" y="511.5" width="179.7" height="32.9" fill="#000"/>
<rect x="923.3" y="506" width="179.7" height="32.9" fill="#fff" stroke="#707070" stroke-width="1.1"/>
<text x="926.12" y="530.8" font-size="24.62" fill="#000">Cyclic stability</text>
</g>
</svg></body></html>
